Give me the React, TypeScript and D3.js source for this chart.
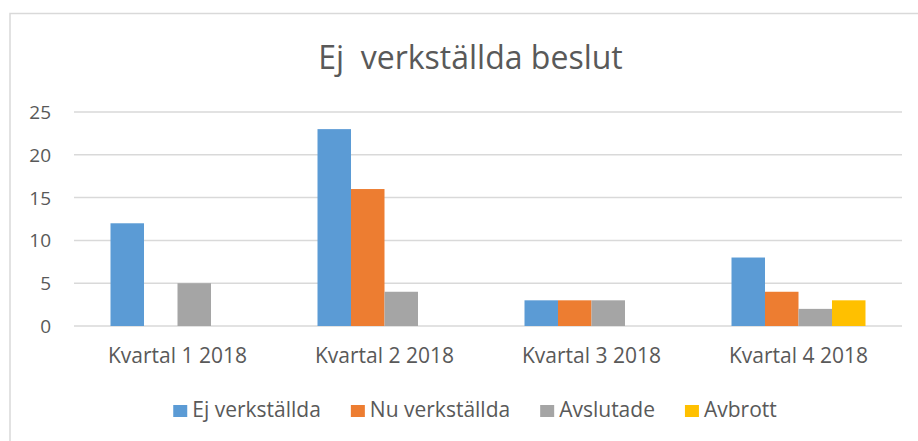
import React, { useEffect, useRef } from "react";
import * as d3 from "d3";

const categories = ["Kvartal 1 2018", "Kvartal 2 2018", "Kvartal 3 2018", "Kvartal 4 2018"];
const seriesNames = ["Ej verkställda", "Nu verkställda", "Avslutade", "Avbrott"];
const ejVerkstallda = [12, 23, 3, 8];
const nuVerkstallda = [0, 16, 3, 4];
const avslutade = [5, 4, 3, 2];
const avbrott = [0, 0, 0, 3];
const yTicks = [0, 5, 10, 15, 20, 25];
const colors = ["#5B9BD5", "#ED7D31", "#A5A5A5", "#FFC000"];
const title = "Ej\u00a0 verkställda beslut";

const W = 918;
const H = 441;
const FONT = "'Open Sans', 'DejaVu Sans', sans-serif";
const TEXT = "#595959";

export default function App() {
  const ref = useRef<SVGSVGElement | null>(null);

  useEffect(() => {
    const svg = d3.select(ref.current);
    svg.selectAll("*").remove();

    const values = [ejVerkstallda, nuVerkstallda, avslutade, avbrott];
    const plot = { left: 74, right: 902, top: 112, bottom: 326 };

    // chart frame
    svg.append("rect")
      .attr("x", 10).attr("y", 13.5)
      .attr("width", W + 20).attr("height", H + 20)
      .attr("fill", "#fff").attr("stroke", "#D9D9D9").attr("stroke-width", 1.5);

    // title
    svg.append("text")
      .attr("x", 470.5).attr("y", 69)
      .attr("text-anchor", "middle")
      .attr("font-family", FONT).attr("font-size", 32)
      .attr("fill", TEXT)
      .text(title);

    const y = d3.scaleLinear().domain([0, 25]).range([plot.bottom, plot.top]);
    const x0 = d3.scaleBand<string>()
      .domain(categories)
      .range([plot.left, plot.right])
      .paddingInner(0.3527)
      .paddingOuter(0.3527 / 2);
    const x1 = d3.scaleBand<string>()
      .domain(seriesNames)
      .range([0, x0.bandwidth()]);

    // gridlines
    svg.append("g").selectAll("line").data(yTicks).join("line")
      .attr("x1", plot.left).attr("x2", plot.right)
      .attr("y1", (d) => y(d)).attr("y2", (d) => y(d))
      .attr("stroke", "#D9D9D9").attr("stroke-width", 1.5);

    // y tick labels
    svg.append("g").selectAll("text").data(yTicks).join("text")
      .attr("x", 51).attr("y", (d) => y(d) + 7)
      .attr("text-anchor", "end")
      .attr("font-family", FONT).attr("font-size", 19)
      .attr("fill", TEXT)
      .text((d) => String(d));

    // bars
    const g = svg.append("g");
    categories.forEach((c, ci) => {
      seriesNames.forEach((s, si) => {
        const v = values[si][ci];
        if (!v) return;
        g.append("rect")
          .attr("x", (x0(c) ?? 0) + (x1(s) ?? 0))
          .attr("y", y(v))
          .attr("width", x1.bandwidth())
          .attr("height", y(0) - y(v))
          .attr("fill", colors[si]);
      });
    });

    // category labels
    svg.append("g").selectAll("text").data(categories).join("text")
      .attr("x", (d) => (x0(d) ?? 0) + x0.bandwidth() / 2)
      .attr("y", 363)
      .attr("text-anchor", "middle")
      .attr("font-family", FONT).attr("font-size", 21)
      .attr("fill", TEXT)
      .text((d) => d);

    // legend
    const leg = svg.append("g");
    const items: { g: any; w: number }[] = [];
    seriesNames.forEach((s, i) => {
      const ig = leg.append("g");
      ig.append("rect").attr("x", 0).attr("y", -11.5).attr("width", 14).attr("height", 12).attr("fill", colors[i]);
      const t = ig.append("text")
        .attr("x", 19).attr("y", 0)
        .attr("font-family", FONT).attr("font-size", 21)
        .attr("fill", TEXT)
        .text(s);
      const tw = (t.node() as SVGTextElement).getComputedTextLength();
      items.push({ g: ig, w: 19 + tw });
    });
    const gap = 30;
    const total = items.reduce((a, b) => a + b.w, 0) + gap * (items.length - 1);
    let cx = 475 - total / 2;
    items.forEach((it) => {
      it.g.attr("transform", `translate(${cx},416.5)`);
      cx += it.w + gap;
    });
  }, []);

  return (
    <svg ref={ref} width={W} height={H} style={{ display: "block", position: "absolute", left: 0, top: 0 }} />
  );
}
